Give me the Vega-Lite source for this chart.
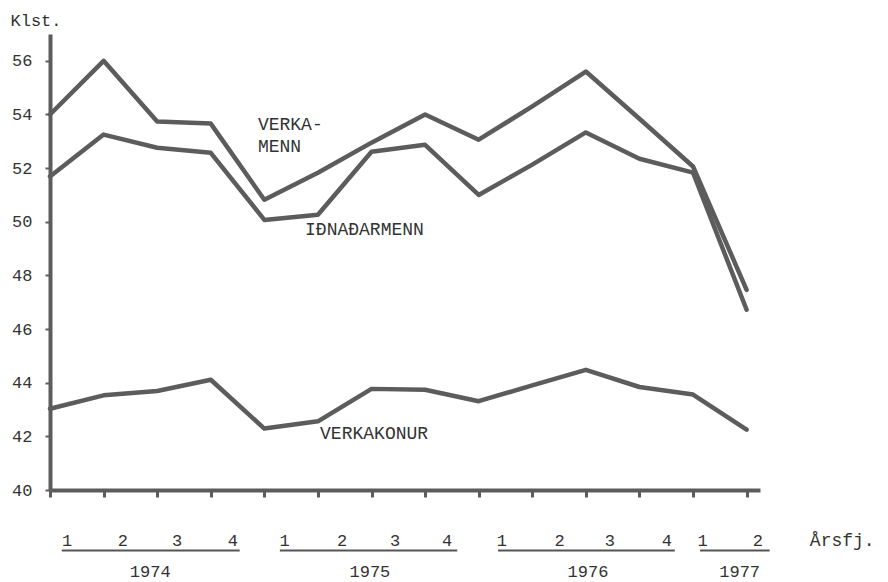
{
  "$schema": "https://vega.github.io/schema/vega-lite/v6.json",
  "width": 710,
  "height": 456,
  "autosize": {"type": "none"},
  "padding": {"left": 50, "top": 34, "right": 128, "bottom": 92},
  "background": "white",
  "config": {"view": {"stroke": null}, "font": "Liberation Mono"},
  "datasets": {
    "lines": [
      {"series": "VERKAMENN", "x": 0, "y": 54.0},
      {"series": "VERKAMENN", "x": 1, "y": 56.0},
      {"series": "VERKAMENN", "x": 2, "y": 53.74},
      {"series": "VERKAMENN", "x": 3, "y": 53.66},
      {"series": "VERKAMENN", "x": 4, "y": 50.82},
      {"series": "VERKAMENN", "x": 5, "y": 51.83},
      {"series": "VERKAMENN", "x": 6, "y": 52.95},
      {"series": "VERKAMENN", "x": 7, "y": 54.0},
      {"series": "VERKAMENN", "x": 8, "y": 53.06},
      {"series": "VERKAMENN", "x": 9, "y": 54.3},
      {"series": "VERKAMENN", "x": 10, "y": 55.6},
      {"series": "VERKAMENN", "x": 11, "y": 53.84},
      {"series": "VERKAMENN", "x": 12, "y": 52.06},
      {"series": "VERKAMENN", "x": 13, "y": 47.46},
      {"series": "IÐNAÐARMENN", "x": 0, "y": 51.69},
      {"series": "IÐNAÐARMENN", "x": 1, "y": 53.25},
      {"series": "IÐNAÐARMENN", "x": 2, "y": 52.76},
      {"series": "IÐNAÐARMENN", "x": 3, "y": 52.57},
      {"series": "IÐNAÐARMENN", "x": 4, "y": 50.07},
      {"series": "IÐNAÐARMENN", "x": 5, "y": 50.26},
      {"series": "IÐNAÐARMENN", "x": 6, "y": 52.61},
      {"series": "IÐNAÐARMENN", "x": 7, "y": 52.87},
      {"series": "IÐNAÐARMENN", "x": 8, "y": 51.0},
      {"series": "IÐNAÐARMENN", "x": 9, "y": 52.13},
      {"series": "IÐNAÐARMENN", "x": 10, "y": 53.33},
      {"series": "IÐNAÐARMENN", "x": 11, "y": 52.35},
      {"series": "IÐNAÐARMENN", "x": 12, "y": 51.83},
      {"series": "IÐNAÐARMENN", "x": 13, "y": 46.72},
      {"series": "VERKAKONUR", "x": 0, "y": 43.03},
      {"series": "VERKAKONUR", "x": 1, "y": 43.53},
      {"series": "VERKAKONUR", "x": 2, "y": 43.69},
      {"series": "VERKAKONUR", "x": 3, "y": 44.11},
      {"series": "VERKAKONUR", "x": 4, "y": 42.29},
      {"series": "VERKAKONUR", "x": 5, "y": 42.56},
      {"series": "VERKAKONUR", "x": 6, "y": 43.77},
      {"series": "VERKAKONUR", "x": 7, "y": 43.74},
      {"series": "VERKAKONUR", "x": 8, "y": 43.31},
      {"series": "VERKAKONUR", "x": 9, "y": 43.9},
      {"series": "VERKAKONUR", "x": 10, "y": 44.48},
      {"series": "VERKAKONUR", "x": 11, "y": 43.84},
      {"series": "VERKAKONUR", "x": 12, "y": 43.56},
      {"series": "VERKAKONUR", "x": 13, "y": 42.25}
    ],
    "seriesLabels": [
      {"x": 3.88, "y": 53.62, "text": "VERKA-"},
      {"x": 3.88, "y": 52.8, "text": "MENN"},
      {"x": 4.76, "y": 49.7, "text": "IÐNAÐARMENN"},
      {"x": 5.04, "y": 42.09, "text": "VERKAKONUR"}
    ],
    "quarters": [
      {"x": 0.32, "y": 38.1, "text": "1"},
      {"x": 1.36, "y": 38.1, "text": "2"},
      {"x": 2.37, "y": 38.1, "text": "3"},
      {"x": 3.41, "y": 38.1, "text": "4"},
      {"x": 4.38, "y": 38.1, "text": "1"},
      {"x": 5.45, "y": 38.1, "text": "2"},
      {"x": 6.44, "y": 38.1, "text": "3"},
      {"x": 7.41, "y": 38.1, "text": "4"},
      {"x": 8.43, "y": 38.1, "text": "1"},
      {"x": 9.51, "y": 38.1, "text": "2"},
      {"x": 10.45, "y": 38.1, "text": "3"},
      {"x": 11.51, "y": 38.1, "text": "4"},
      {"x": 12.18, "y": 38.1, "text": "1"},
      {"x": 13.21, "y": 38.1, "text": "2"}
    ],
    "underlines": [
      {"x": 0.22, "x2": 3.54, "y": 37.74},
      {"x": 4.29, "x2": 7.6, "y": 37.74},
      {"x": 8.36, "x2": 11.66, "y": 37.74},
      {"x": 12.13, "x2": 13.43, "y": 37.74}
    ],
    "years": [
      {"x": 1.87, "y": 36.95, "text": "1974"},
      {"x": 5.97, "y": 36.95, "text": "1975"},
      {"x": 10.04, "y": 36.95, "text": "1976"},
      {"x": 12.87, "y": 36.95, "text": "1977"}
    ],
    "unit": [
      {"x": 14.18, "y": 38.1, "text": "Årsfj."}
    ]
  },
  "layer": [
    {
      "data": {"name": "lines"},
      "mark": {"type": "line", "color": "#5c5c5c", "strokeWidth": 4.5, "strokeJoin": "round", "strokeCap": "round"},
      "encoding": {
        "x": {
          "field": "x", "type": "quantitative",
          "scale": {"domain": [0, 13.25], "nice": false, "zero": false},
          "axis": {
            "title": null, "values": [0,1,2,3,4,5,6,7,8,9,10,11,12,13],
            "labels": false, "grid": false,
            "domainColor": "#5c5c5c", "domainWidth": 4,
            "tickColor": "#5c5c5c", "tickWidth": 3, "tickSize": 7
          }
        },
        "y": {
          "field": "y", "type": "quantitative",
          "scale": {"domain": [40, 57], "nice": false, "zero": false},
          "axis": {
            "title": "Klst.", "titleAngle": 0, "titleAlign": "left", "titleBaseline": "middle",
            "titleX": -40, "titleY": -14, "titleFont": "Liberation Mono", "titleFontSize": 17,
            "titleFontWeight": "normal", "titleColor": "#333333",
            "values": [40,42,44,46,48,50,52,54,56], "grid": false,
            "labelFont": "Liberation Mono", "labelFontSize": 17, "labelColor": "#333333",
            "labelPadding": 13,
            "domainColor": "#5c5c5c", "domainWidth": 4,
            "tickColor": "#5c5c5c", "tickWidth": 2, "tickSize": 5
          }
        },
        "detail": {"field": "series", "type": "nominal"}
      }
    },
    {
      "data": {"name": "seriesLabels"},
      "mark": {"type": "text", "align": "left", "baseline": "middle", "font": "Liberation Mono", "fontSize": 18, "color": "#333333"},
      "encoding": {
        "x": {"field": "x", "type": "quantitative"},
        "y": {"field": "y", "type": "quantitative"},
        "text": {"field": "text"}
      }
    },
    {
      "data": {"name": "quarters"},
      "mark": {"type": "text", "align": "center", "baseline": "middle", "font": "Liberation Mono", "fontSize": 17, "color": "#333333"},
      "encoding": {
        "x": {"field": "x", "type": "quantitative"},
        "y": {"field": "y", "type": "quantitative"},
        "text": {"field": "text"}
      }
    },
    {
      "data": {"name": "underlines"},
      "mark": {"type": "rule", "color": "#555555", "strokeWidth": 2},
      "encoding": {
        "x": {"field": "x", "type": "quantitative"},
        "x2": {"field": "x2"},
        "y": {"field": "y", "type": "quantitative"}
      }
    },
    {
      "data": {"name": "years"},
      "mark": {"type": "text", "align": "center", "baseline": "middle", "font": "Liberation Mono", "fontSize": 17, "color": "#333333"},
      "encoding": {
        "x": {"field": "x", "type": "quantitative"},
        "y": {"field": "y", "type": "quantitative"},
        "text": {"field": "text"}
      }
    },
    {
      "data": {"name": "unit"},
      "mark": {"type": "text", "align": "left", "baseline": "middle", "font": "Liberation Mono", "fontSize": 18, "color": "#333333"},
      "encoding": {
        "x": {"field": "x", "type": "quantitative"},
        "y": {"field": "y", "type": "quantitative"},
        "text": {"field": "text"}
      }
    }
  ]
}
